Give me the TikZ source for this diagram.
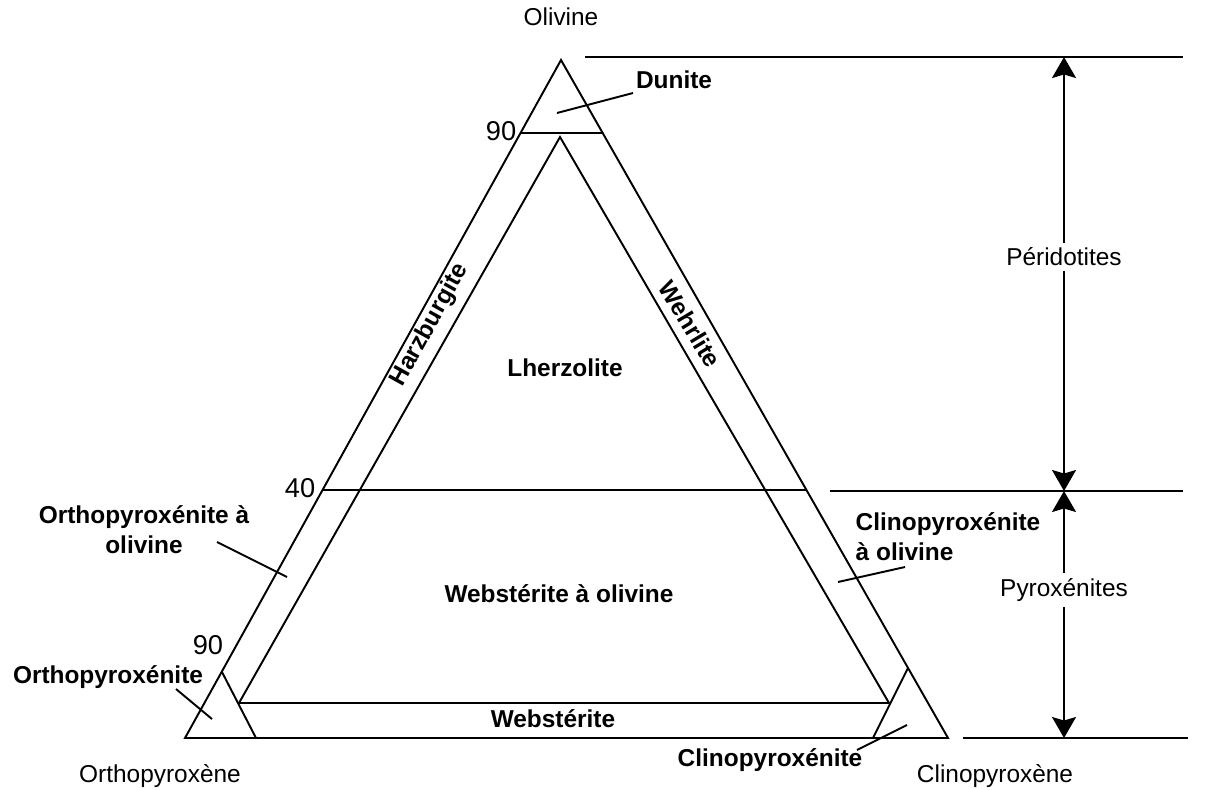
\documentclass[tikz,border=0pt]{standalone}
\usepackage{fontspec}
\setmainfont{Liberation Sans}
\usetikzlibrary{arrows.meta}

\begin{document}
\begin{tikzpicture}[x=0.02cm, y=-0.02cm, line width=1.1pt,
  >={Stealth[length=0.42cm, width=0.48cm, inset=0.07cm]},
  lbl/.style={font=\fontsize{13.9}{17}\selectfont, inner sep=1pt},
  rock/.style={font=\fontsize{13.9}{17}\selectfont\bfseries, inner sep=1pt},
  num/.style={font=\fontsize{15.5}{18}\selectfont, inner sep=1pt}]
  \useasboundingbox (0,0) rectangle (1216,789);

  % Sommets
  \coordinate (ol) at (561,60);
  \coordinate (opx) at (185,738);
  \coordinate (cpx) at (948,738);
  \coordinate (i1) at (560,137);
  \coordinate (i2) at (239,703);
  \coordinate (i3) at (889,703);

  % Triangle principal
  \draw (ol) -- (opx) -- (cpx) -- cycle;
  \draw (i1) -- (i2) -- (i3) -- cycle;
  \coordinate (d1) at (520.5,133);
  \coordinate (d2) at (602.7,133);
  \draw (d1) -- (d2);
  \coordinate (q1) at (322.5,490);
  \coordinate (q2) at (807,490);
  \draw (q1) -- (q2);
  \coordinate (o1) at (222,672);
  \coordinate (o2) at (256,738);
  \draw (o1) -- (o2);
  \coordinate (c1) at (908,668);
  \coordinate (c2) at (873,738);
  \draw (c1) -- (c2);

  % Sommets et graduations
  \node[lbl] (tol) at (561,17) {Olivine};
  \node[lbl] (topx) at (160,776) {Orthopyroxène};
  \node[lbl] (tcpx) at (995,776) {Clinopyroxène};
  \node[num, anchor=east] (n90a) at (519,131) {90};
  \node[num, anchor=east] (n40) at (318,488) {40};
  \node[num] (n90b) at (208,645) {90};

  % Roches
  \node[rock] (dun) at (674,80) {Dunite};
  \node[rock] (lhz) at (565,368) {Lherzolite};
  \node[rock, rotate=61] (hzb) at (430,325) {Harzburgite};
  \node[rock, rotate=-59] (weh) at (690,324) {Wehrlite};
  \node[rock] (wol) at (559,594) {Webstérite à olivine};
  \node[rock] (web) at (553,719) {Webstérite};
  \node[rock, align=center] (opxol) at (144,530) {Orthopyroxénite à\\olivine};
  \node[rock, align=left, anchor=west] (cpxol) at (853,537) {Clinopyroxénite\\à olivine};
  \node[rock] (opxt) at (108,677) {Orthopyroxénite};
  \node[rock] (cpxt) at (770,760) {Clinopyroxénite};

  % Traits de rappel
  \coordinate (l1a) at (557,113);
  \coordinate (l1b) at (633,93);
  \draw (l1a) -- (l1b);
  \coordinate (l2a) at (217,542);
  \coordinate (l2b) at (287,577);
  \draw (l2a) -- (l2b);
  \coordinate (l3a) at (838,582);
  \coordinate (l3b) at (905,567);
  \draw (l3a) -- (l3b);
  \coordinate (l4a) at (176,689);
  \coordinate (l4b) at (212,719);
  \draw (l4a) -- (l4b);
  \coordinate (l5a) at (907,725);
  \coordinate (l5b) at (857,750);
  \draw (l5a) -- (l5b);

  % Echelle
  \coordinate (h1) at (585,57);
  \coordinate (h2) at (1183,57);
  \coordinate (h3) at (830,491);
  \coordinate (h4) at (1183,491);
  \coordinate (h5) at (963,738);
  \coordinate (h6) at (1188,738);
  \draw (h1) -- (h2);
  \draw (h3) -- (h4);
  \draw (h5) -- (h6);
  \coordinate (a1) at (1064,57);
  \coordinate (a2) at (1064,491);
  \coordinate (a3) at (1064,738);
  \draw[<->] (a1) -- (a2);
  \draw[<->] (a2) -- (a3);
  \node[lbl, fill=white, inner sep=3pt] (per) at (1064,257) {Péridotites};
  \node[lbl, fill=white, inner sep=3pt] (pyr) at (1064,590) {Pyroxénites};
\end{tikzpicture}
\end{document}
